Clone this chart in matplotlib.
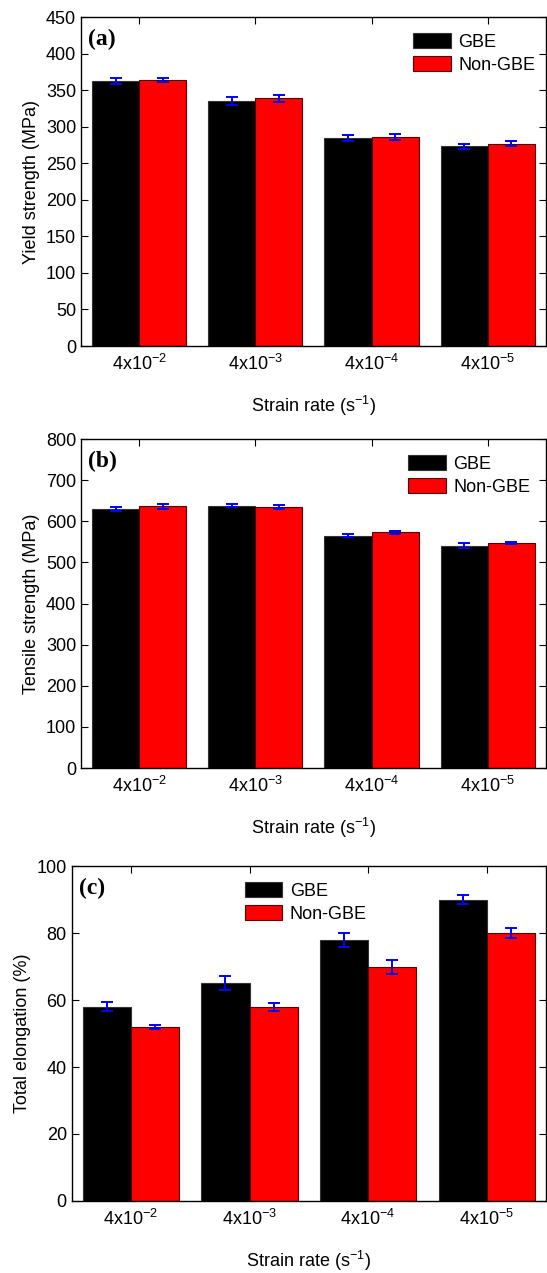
import matplotlib
matplotlib.use("Agg")
import matplotlib.pyplot as plt
import numpy as np

plt.rcParams['font.family'] = ['Liberation Sans', 'DejaVu Sans']
plt.rcParams['mathtext.default'] = 'regular'

# strain rate categories
rates = ["4x10$^{-2}$", "4x10$^{-3}$", "4x10$^{-4}$", "4x10$^{-5}$"]

# (a) yield strength, MPa
ys_gbe = [363, 335, 284, 273]
ys_gbe_err = [4, 5, 4, 4]
ys_non = [364, 339, 286, 277]
ys_non_err = [3, 5, 4, 3]

# (b) tensile strength, MPa
ts_gbe = [630, 638, 565, 540]
ts_gbe_err = [4, 4, 4, 6]
ts_non = [636, 635, 573, 547]
ts_non_err = [6, 4, 3, 3]

# (c) total elongation, %
el_gbe = [58, 65, 78, 90]
el_gbe_err = [1.3, 2.1, 2.1, 1.3]
el_non = [52, 58, 70, 80]
el_non_err = [0.6, 1.2, 2.1, 1.5]

panels = [
    ("(a)", "Yield strength (MPa)", ys_gbe, ys_gbe_err, ys_non, ys_non_err, 450, 50,
     [0.148, 0.7282, 0.85, 0.2584], (1.0, 0.985)),
    ("(b)", "Tensile strength (MPa)", ts_gbe, ts_gbe_err, ts_non, ts_non_err, 800, 100,
     [0.148, 0.3967, 0.85, 0.2584], (0.99, 0.985)),
    ("(c)", "Total elongation (%)", el_gbe, el_gbe_err, el_non, el_non_err, 100, 20,
     [0.131, 0.0566, 0.867, 0.263], (0.645, 0.985)),
]

fig = plt.figure(figsize=(5.47, 12.73), dpi=100)
x = np.arange(1, len(rates) + 1)
w = 0.405

for tag, ylab, g, ge, n, ne, ymax, ystep, rect, legpos in panels:
    ax = fig.add_axes(rect)
    ax.bar(x - w / 2, g, w, color="black", edgecolor="#333333", linewidth=0.8,
           label="GBE", zorder=2)
    ax.bar(x + w / 2, n, w, color="#ff0000", edgecolor="#550000", linewidth=0.8,
           label="Non-GBE", zorder=2)
    ax.errorbar(x - w / 2, g, yerr=ge, fmt="none", ecolor="#0000ff",
                elinewidth=1.4, capsize=4, capthick=1.4, zorder=3)
    ax.errorbar(x + w / 2, n, yerr=ne, fmt="none", ecolor="#0000ff",
                elinewidth=1.4, capsize=4, capthick=1.4, zorder=3)

    ax.set_xlim(0.5, 4.5)
    ax.set_ylim(0, ymax)
    ax.set_yticks(np.arange(0, ymax + 1, ystep))
    ax.set_xticks(x)
    ax.set_xticklabels(rates)
    ax.tick_params(axis="x", top=True, bottom=False, direction="in",
                   length=5, labelsize=13, pad=6)
    ax.tick_params(axis="y", direction="in", length=5, labelsize=13, right=True)
    for s in ax.spines.values():
        s.set_linewidth(1.0)

    ax.set_ylabel(ylab, fontsize=13)
    ax.set_xlabel("Strain rate (s$^{-1}$)", fontsize=13, labelpad=14)
    ax.text(0.015, 0.965, tag, transform=ax.transAxes, ha="left", va="top",
            fontsize=17, fontweight="bold", family="Liberation Serif")

    ax.legend(loc="upper right", bbox_to_anchor=legpos, frameon=False,
              fontsize=13, handlelength=2.1, handleheight=0.9,
              handletextpad=0.4, labelspacing=0.3, borderaxespad=0.2)

fig.savefig("out.png", dpi=100)
